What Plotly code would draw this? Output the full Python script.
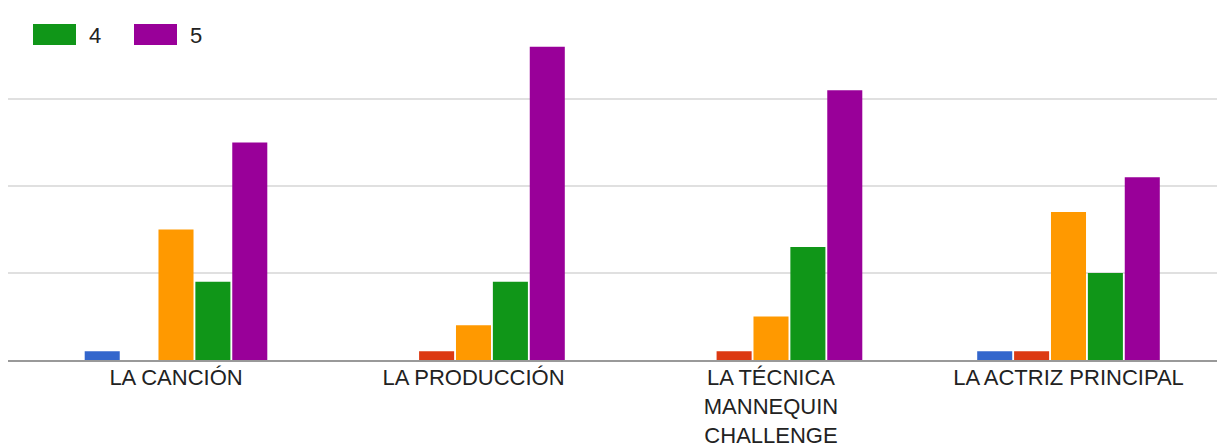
import plotly.graph_objects as go

categories = ["LA CANCIÓN", "LA PRODUCCIÓN", "LA TÉCNICA<br>MANNEQUIN<br>CHALLENGE", "LA ACTRIZ PRINCIPAL"]
series_names = ["1", "2", "3", "4", "5"]
s1 = [1, 0, 0, 1]
s2 = [0, 1, 1, 1]
s3 = [15, 4, 5, 17]
s4 = [9, 9, 13, 10]
s5 = [25, 36, 31, 21]
colors = ["#3366cc", "#dc3912", "#ff9900", "#109618", "#990099"]
legend_shown = ["4", "5"]

W, H = 1222, 446
L, R, T, B = 8, 5, 12, 86
pw, ph = W - L - R, H - T - B

fig = go.Figure()
xs = list(range(len(categories)))
for name, vals, c in zip(series_names, [s1, s2, s3, s4, s5], colors):
    fig.add_trace(go.Bar(x=xs, y=vals, name=name, marker=dict(color=c, line=dict(width=0)),
                         showlegend=False))

def px_x(x):
    return (x - L) / pw

def px_y(y):
    return (H - B - y) / ph

# custom legend (large swatches like original)
legend_pos = {"4": (33, 87), "5": (134, 188)}
for name in legend_shown:
    c = colors[series_names.index(name)]
    sx, tx = legend_pos[name]
    fig.add_shape(type="rect", xref="paper", yref="paper",
                  x0=px_x(sx), x1=px_x(sx + 43), y0=px_y(45), y1=px_y(24),
                  fillcolor=c, line=dict(width=0))
    fig.add_annotation(xref="paper", yref="paper", x=px_x(tx), y=px_y(35),
                       text=name, showarrow=False, xanchor="left", yanchor="middle",
                       font=dict(size=22, color="#222222"))

spacing = 297.5
left_units = (176 - L) / spacing
fig.update_layout(
    width=W, height=H,
    margin=dict(l=L, r=R, t=T, b=B, pad=0, autoexpand=False),
    plot_bgcolor="white", paper_bgcolor="white",
    barmode="group", bargap=0.38, bargroupgap=0.05,
    font=dict(family="Arial, Liberation Sans, sans-serif", size=22, color="#222222"),
    xaxis=dict(tickmode="array", tickvals=xs, ticktext=categories,
               range=[-left_units, -left_units + pw / spacing], automargin=False,
               showgrid=False, showline=True, linecolor="#999999", linewidth=2,
               ticks="", ticklabelstandoff=-3, tickfont=dict(size=22, color="#222222")),
    yaxis=dict(range=[0, 40], dtick=10, showticklabels=False, gridcolor="#e0e0e0",
               gridwidth=2, zeroline=False, showline=False, ticks="", automargin=False),
)

fig.write_html("out.html")
